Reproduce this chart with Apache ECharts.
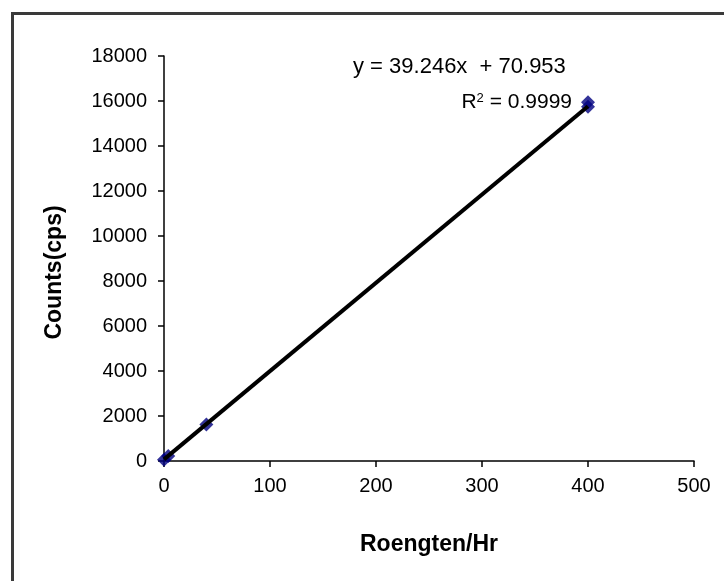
<!DOCTYPE html>
<html>
<head>
<meta charset="utf-8">
<script src="https://cdn.jsdelivr.net/npm/echarts@6/dist/echarts.min.js"></script>
<style>
  html, body { margin: 0; padding: 0; background: #fff; }
  #chart { width: 724px; height: 581px; }
</style>
</head>
<body>
<div id="chart"></div>
<script>
// Calibration readings: dose rate vs. detector count rate
const doseRate = [0, 4, 40, 400, 400];
const countRate = [60, 220, 1620, 15750, 15950];

// Linear least-squares fit reported on the chart
const slope = 39.246;
const intercept = 70.953;
const rSquared = '0.9999';
const fitX = [0, 400];

const xTicks = { min: 0, max: 500, interval: 100 };
const yTicks = { min: 0, max: 18000, interval: 2000 };

const FONT = '"Liberation Sans", Arial, sans-serif';

const points = doseRate.map((x, i) => [x, countRate[i]]);
const fitLine = fitX.map(x => [x, slope * x + intercept]);

const chart = echarts.init(document.getElementById('chart'), null, { renderer: 'canvas' });

chart.setOption({
  backgroundColor: '#ffffff',
  animation: false,
  grid: { left: 164, right: 30, top: 56, bottom: 120, containLabel: false },
  xAxis: {
    type: 'value',
    min: xTicks.min, max: xTicks.max, interval: xTicks.interval,
    name: 'Roengten/Hr',
    nameLocation: 'middle',
    nameGap: 72,
    nameTextStyle: { fontFamily: FONT, fontSize: 23, fontWeight: 'bold', color: '#000' },
    axisLine: { lineStyle: { color: '#000', width: 1.5 } },
    axisTick: { inside: false, length: 6, lineStyle: { color: '#000', width: 1.5 } },
    axisLabel: { fontFamily: FONT, fontSize: 20, color: '#000', margin: 15, formatter: v => String(v) },
    splitLine: { show: false }
  },
  yAxis: {
    type: 'value',
    min: yTicks.min, max: yTicks.max, interval: yTicks.interval,
    name: 'Counts(cps)',
    nameLocation: 'middle',
    nameGap: 98,
    nameRotate: 90,
    nameTextStyle: { fontFamily: FONT, fontSize: 23, fontWeight: 'bold', color: '#000', padding: [0, 28, 0, 0] },
    axisLine: { show: true, lineStyle: { color: '#000', width: 1.5 } },
    axisTick: { show: true, inside: false, length: 6, lineStyle: { color: '#000', width: 1.5 } },
    axisLabel: { fontFamily: FONT, fontSize: 20, color: '#000', margin: 17, formatter: v => String(v) },
    splitLine: { show: false }
  },
  series: [
    {
      name: 'Readings',
      type: 'scatter',
      data: points,
      symbol: 'diamond',
      symbolSize: 14,
      itemStyle: { color: '#000080' },
      z: 2
    },
    {
      name: 'Linear fit',
      type: 'line',
      data: fitLine,
      showSymbol: false,
      lineStyle: { color: '#000', width: 4 },
      z: 3
    }
  ],
  graphic: [
    {
      type: 'rect',
      left: 10, top: 11,
      shape: { x: 0, y: 0, width: 760, height: 620 },
      style: { fill: 'none', stroke: '#3a3a3a', lineWidth: 3 },
      silent: true
    },
    {
      type: 'text',
      left: 353, top: 56,
      style: {
        text: 'y = 39.246x  + 70.953',
        font: '22px ' + FONT,
        fill: '#000'
      }
    },
    {
      type: 'text',
      right: 152, top: 92,
      style: {
        text: '{r|R}{sup|2}{r| = ' + rSquared + '}',
        fill: '#000',
        rich: {
          r: { font: '21px ' + FONT, fill: '#000', verticalAlign: 'bottom' },
          sup: { font: '13px ' + FONT, fill: '#000', verticalAlign: 'top', padding: [0, 0, 8, 0] }
        }
      }
    }
  ]
});
</script>
</body>
</html>
